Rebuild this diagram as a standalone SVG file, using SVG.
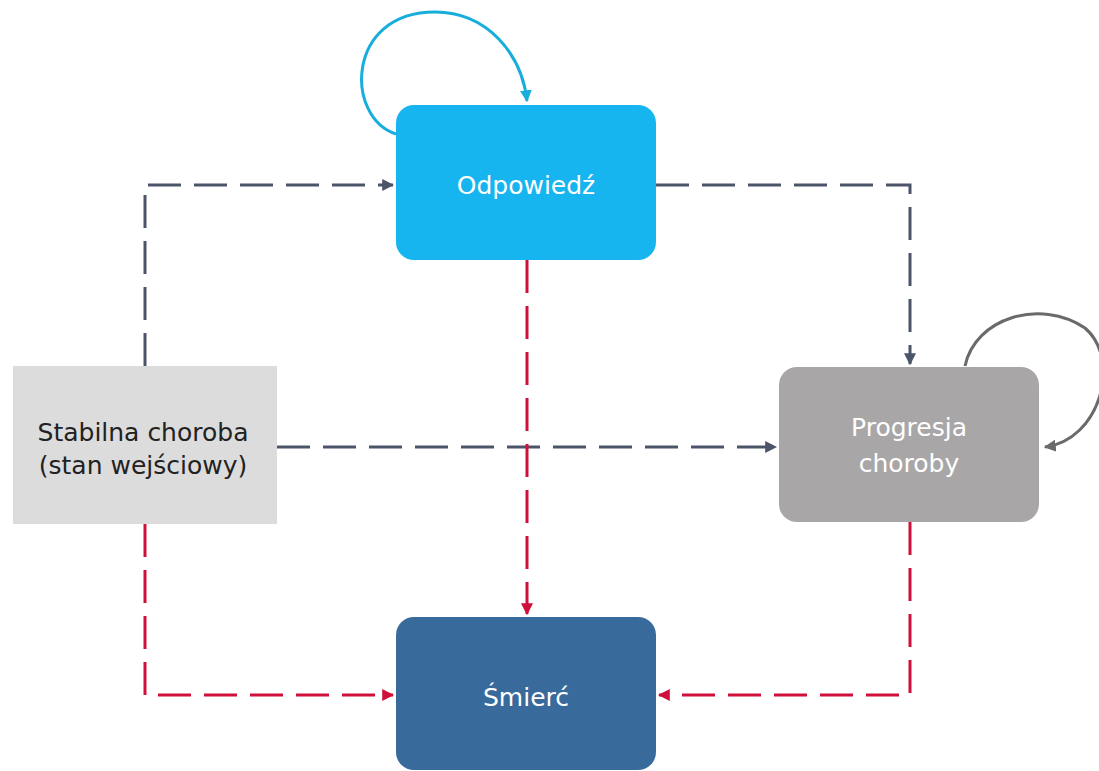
<svg xmlns="http://www.w3.org/2000/svg" width="1099" height="771" viewBox="0 0 1099 771">
<style>
.lbl{font-family:"DejaVu Sans","Noto Sans",sans-serif;font-size:25px;text-anchor:middle}
.w{fill:#ffffff}
.d{fill:#222222}
.dash{fill:none;stroke-width:3;stroke-dasharray:33 13}
.gray{stroke:#4b5468}
.red{stroke:#d0103a}
</style>
<defs>
<marker id="aG" viewBox="0 0 10 10" refX="9" refY="5" markerWidth="4" markerHeight="4" orient="auto" markerUnits="strokeWidth"><path d="M0,0L10,5L0,10z" fill="#4b5468"/></marker>
<marker id="aR" viewBox="0 0 10 10" refX="9" refY="5" markerWidth="4" markerHeight="4" orient="auto" markerUnits="strokeWidth"><path d="M0,0L10,5L0,10z" fill="#d0103a"/></marker>
<marker id="aC" viewBox="0 0 10 10" refX="9" refY="5" markerWidth="4" markerHeight="4" orient="auto" markerUnits="strokeWidth"><path d="M0,0L10,5L0,10z" fill="#17aedb"/></marker>
<marker id="aD" viewBox="0 0 10 10" refX="9" refY="5" markerWidth="4" markerHeight="4" orient="auto" markerUnits="strokeWidth"><path d="M0,0L10,5L0,10z" fill="#6a6a6a"/></marker>
</defs>
<g id="connectors">
<path class="dash gray" d="M145,366 V185 H393" marker-end="url(#aG)"/>
<path class="dash gray" d="M656,185 H910 V364" marker-end="url(#aG)"/>
<path class="dash gray" d="M277,447 H776" marker-end="url(#aG)"/>
<path class="dash red" d="M527,260 V614" marker-end="url(#aR)"/>
<path class="dash red" d="M145,524 V695 H393" marker-end="url(#aR)"/>
<path class="dash red" d="M910,522 V695 H659" marker-end="url(#aR)"/>
<path d="M396,134 C345,118 345,12 435,12 C488,12 522,55 527,101" fill="none" stroke="#17aedb" stroke-width="3" marker-end="url(#aC)"/>
<path d="M965,366 C975,318 1040,298 1085,328 C1122,360 1100,440 1045,447" fill="none" stroke="#6a6a6a" stroke-width="3" marker-end="url(#aD)"/>
</g>
<g id="odpowiedz">
<rect x="396" y="105" width="260" height="155" rx="18" fill="#16b5ef"/>
<text class="lbl w" x="526" y="194">Odpowiedź</text>
</g>
<g id="progresja">
<rect x="779" y="367" width="260" height="155" rx="18" fill="#a9a6a7"/>
<text class="lbl w" x="909" y="436">Progresja</text>
<text class="lbl w" x="909" y="472">choroby</text>
</g>
<g id="stabilna">
<rect x="13" y="366" width="264" height="158" fill="#dcdcdc"/>
<text class="lbl d" x="143" y="441">Stabilna choroba</text>
<text class="lbl d" x="143" y="474">(stan wejściowy)</text>
</g>
<g id="smierc">
<rect x="396" y="617" width="260" height="153" rx="18" fill="#386a9b"/>
<text class="lbl w" x="526" y="706">Śmierć</text>
</g>
</svg>
